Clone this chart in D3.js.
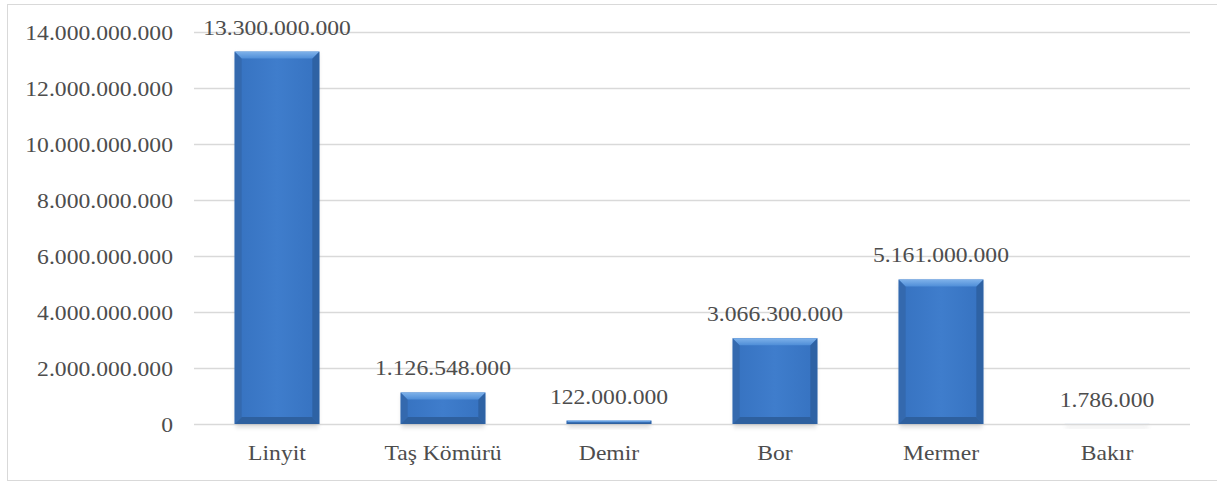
<!DOCTYPE html>
<html>
<head>
<meta charset="utf-8">
<script src="https://cdn.jsdelivr.net/npm/d3@7"></script>
<style>
  body { margin: 0; background: #fff; }
  svg text { font-family: "Liberation Serif", "Times New Roman", Tinos, "DejaVu Serif", serif !important; }
</style>
</head>
<body>
<svg id="chart" width="1217" height="482"></svg>
<script>
// data
var CATEGORIES = ["Linyit", "Taş Kömürü", "Demir", "Bor", "Mermer", "Bakır"];
var VALUES = [13300000000, 1126548000, 122000000, 3066300000, 5161000000, 1786000];
var Y_TICKS = [0, 2e9, 4e9, 6e9, 8e9, 10e9, 12e9, 14e9];

var TEXT_COLOR = "#4d4d4d";
var GRID_COLOR = "#d9d9d9";
var STRETCH = 1.075; // text in the picture is a bit wider than the font

var trLocale = d3.formatLocale({ decimal: ",", thousands: ".", grouping: [3], currency: ["", " ₺"] });
var fmt = trLocale.format(",d");

var svg = d3.select("#chart");
var margin = { top: 32, right: 27, bottom: 58, left: 194 };
var width = 1217, height = 482;

var defs = svg.append("defs");
var face = defs.append("linearGradient").attr("id", "face").attr("x1", 0).attr("x2", 1).attr("y1", 0).attr("y2", 0);
face.append("stop").attr("offset", "0%").attr("stop-color", "#3672c0");
face.append("stop").attr("offset", "50%").attr("stop-color", "#3f7dcc");
face.append("stop").attr("offset", "100%").attr("stop-color", "#3672c0");
var topBevel = defs.append("linearGradient").attr("id", "topBevel").attr("x1", 0).attr("x2", 0).attr("y1", 0).attr("y2", 1);
topBevel.append("stop").attr("offset", "0%").attr("stop-color", "#7fb2ea");
topBevel.append("stop").attr("offset", "100%").attr("stop-color", "#4f8ed8");
var shadow = defs.append("filter").attr("id", "shadow").attr("x", "-20%").attr("y", "-20%").attr("width", "140%").attr("height", "160%");
shadow.append("feGaussianBlur").attr("stdDeviation", 2);

// outer frame
svg.append("rect")
  .attr("x", 7.5).attr("y", 4.5)
  .attr("width", width).attr("height", 476)
  .attr("fill", "none").attr("stroke", GRID_COLOR);

var x = d3.scaleBand()
  .domain(CATEGORIES)
  .range([margin.left, width - margin.right])
  .paddingInner(0.49)
  .paddingOuter(0.245);
var y = d3.scaleLinear()
  .domain([0, 14e9])
  .range([height - margin.bottom, margin.top]);

// grid + y labels
svg.append("g")
  .attr("transform", `translate(${margin.left},0)`)
  .call(d3.axisLeft(y).tickValues(Y_TICKS).tickSize(-(width - margin.left - margin.right)).tickFormat(fmt))
  .call((g) => g.select(".domain").remove())
  .call((g) => g.selectAll(".tick line").attr("stroke", GRID_COLOR).attr("stroke-width", 1.3))
  .call((g) => g.selectAll(".tick text")
    .attr("x", -21 / STRETCH)
    .attr("transform", `scale(${STRETCH},1)`)
    .attr("fill", TEXT_COLOR)
    .attr("font-size", 22));

// x labels
svg.append("g")
  .attr("transform", `translate(0,${y(0)})`)
  .call(d3.axisBottom(x).tickSize(0))
  .call((g) => g.select(".domain").remove())
  .call((g) => g.selectAll(".tick text")
    .attr("y", 36).attr("dy", 0)
    .attr("transform", `scale(${STRETCH},1)`)
    .attr("fill", TEXT_COLOR)
    .attr("font-size", 22));

var bars = svg.append("g").selectAll("g")
  .data(CATEGORIES.map((c, i) => ({ label: c, value: VALUES[i] })))
  .join("g");

// soft shadow under each bar
bars.append("rect")
  .attr("x", (d) => x(d.label) + 1)
  .attr("y", (d) => y(d.value) + 2)
  .attr("width", x.bandwidth() - 2)
  .attr("height", (d) => y(0) - y(d.value) + 1.5)
  .attr("fill", "#b0b0b0")
  .attr("opacity", 0.45)
  .attr("filter", "url(#shadow)");

bars.append("rect")
  .attr("x", (d) => x(d.label))
  .attr("y", (d) => y(d.value))
  .attr("width", x.bandwidth())
  .attr("height", (d) => y(0) - y(d.value))
  .attr("fill", "url(#face)");

// bevel edges
function bevel(d) {
  var x0 = x(d.label), x1 = x0 + x.bandwidth();
  var y0 = y(d.value), y1 = y(0);
  var b = Math.min(7, (y1 - y0) / 2);
  return { x0: x0, x1: x1, y0: y0, y1: y1, b: b };
}
bars.append("polygon")
  .attr("points", (d) => { var e = bevel(d); return [[e.x0, e.y1], [e.x0 + e.b, e.y1 - e.b], [e.x1 - e.b, e.y1 - e.b], [e.x1, e.y1]].join(" "); })
  .attr("fill", "#2e609f");
bars.append("polygon")
  .attr("points", (d) => { var e = bevel(d); return [[e.x0, e.y0], [e.x0 + e.b, e.y0 + e.b], [e.x0 + e.b, e.y1 - e.b], [e.x0, e.y1]].join(" "); })
  .attr("fill", "#3469ae");
bars.append("polygon")
  .attr("points", (d) => { var e = bevel(d); return [[e.x1, e.y0], [e.x1 - e.b, e.y0 + e.b], [e.x1 - e.b, e.y1 - e.b], [e.x1, e.y1]].join(" "); })
  .attr("fill", "#2e62a4");
bars.append("polygon")
  .attr("points", (d) => { var e = bevel(d); return [[e.x0, e.y0], [e.x1, e.y0], [e.x1 - e.b, e.y0 + e.b], [e.x0 + e.b, e.y0 + e.b]].join(" "); })
  .attr("fill", "url(#topBevel)");

// value labels
svg.append("g").selectAll("g")
  .data(CATEGORIES.map((c, i) => ({ label: c, value: VALUES[i] })))
  .join("g")
  .attr("transform", (d) => `translate(${x(d.label) + x.bandwidth() / 2},${y(d.value) - 17})`)
  .append("text")
  .attr("transform", `scale(${STRETCH},1)`)
  .attr("text-anchor", "middle")
  .attr("fill", TEXT_COLOR)
  .attr("font-size", 22)
  .text((d) => fmt(d.value));
</script>
</body>
</html>
